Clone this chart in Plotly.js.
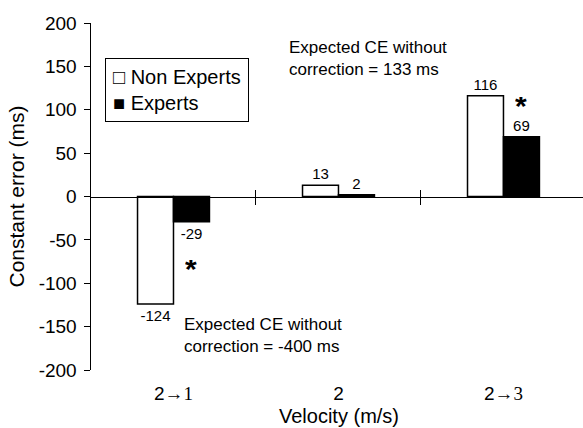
<!DOCTYPE html>
<html>
<head>
<meta charset="utf-8">
<script src="https://cdn.plot.ly/plotly-3.0.1.min.js"></script>
<style>html,body{margin:0;padding:0;overflow:hidden;background:#fff}</style>
</head>
<body>
<div id="chart" style="width:583px;height:428px"></div>
<script>
// ---- data ----
const categories = ['2→1', '2', '2→3'];
const seriesNames = ['Non Experts', 'Experts'];
const nonExperts = [-124, 13, 116];
const experts = [-29, 2, 69];
const yTicks = [-200, -150, -100, -50, 0, 50, 100, 150, 200];
const xTitle = 'Velocity (m/s)';
const yTitle = 'Constant error (ms)';
const noteLow = 'Expected CE without<br>correction = -400 ms';
const noteHigh = 'Expected CE without<br>correction = 133 ms';
const sigMarks = [{cat: 0, y: -82}, {cat: 2, y: 106}];

const FONT = 'Arial, "Liberation Sans", sans-serif';
const catIdx = categories.map((c, i) => i);
const tickText = categories.map(c =>
  c.replace(/→(\d)/, '<span style="font-family:Liberation Serif">→$1</span>'));

const barCommon = {
  type: 'bar',
  x: catIdx,
  textposition: 'outside',
  textfont: {size: 15, color: '#000', family: FONT},
  constraintext: 'none',
  cliponaxis: false,
  showlegend: false,
  hoverinfo: 'skip'
};

const traces = [
  Object.assign({}, barCommon, {
    name: seriesNames[0], y: nonExperts, text: nonExperts.map(String),
    marker: {color: '#fff', line: {color: '#000', width: 1.5}}
  }),
  Object.assign({}, barCommon, {
    name: seriesNames[1], y: experts, text: experts.map(String),
    marker: {color: '#000', line: {color: '#000', width: 1.5}}
  }),
  {type: 'scatter', x: [], y: [], xaxis: 'x2', yaxis: 'y', showlegend: false, hoverinfo: 'skip'},
  {type: 'scatter', x: [], y: [], xaxis: 'x3', yaxis: 'y', showlegend: false, hoverinfo: 'skip'}
];

const xr = [-0.5, 2.482];
const zeroAxis = (ticks) => ({
  overlaying: 'x', anchor: 'free', position: 0.5, range: xr,
  showline: true, linecolor: '#000', linewidth: 1,
  ticks: ticks, ticklen: 7, tickwidth: 1, tickcolor: '#000',
  tickvals: [0.5, 1.5], showticklabels: false, showgrid: false, zeroline: false
});

const annotations = [
  {xref: 'x', yref: 'y', x: 0.685, y: 159, xanchor: 'left', yanchor: 'middle',
   text: noteHigh, align: 'left', showarrow: false, font: {size: 17, family: FONT, color: '#000'}},
  {xref: 'x', yref: 'y', x: 0.05, y: -160.5, xanchor: 'left', yanchor: 'middle',
   text: noteLow, align: 'left', showarrow: false, font: {size: 17, family: FONT, color: '#000'}},
  {xref: 'paper', yref: 'paper', x: 0.0285, y: 0.9, xanchor: 'left', yanchor: 'top',
   text: '□ ' + seriesNames[0] + '<br>■ ' + seriesNames[1], align: 'left', showarrow: false,
   bordercolor: '#000', borderwidth: 1, borderpad: 7, bgcolor: '#fff',
   font: {size: 20, family: FONT, color: '#000'}},
  // x-axis title
  {xref: 'paper', yref: 'paper', x: 0.505, y: -0.167, xanchor: 'center', yanchor: 'bottom',
   text: xTitle, showarrow: false, borderpad: 0, font: {size: 20, family: FONT, color: '#000'}}
].concat(sigMarks.map(s => ({
  xref: 'x', yref: 'y', x: s.cat + 0.105, y: s.y, text: '<b>*</b>', showarrow: false,
  xanchor: 'center', yanchor: 'middle', height: 16, valign: 'middle',
  font: {size: 30, family: FONT, color: '#000'}
})));

const layout = {
  width: 583, height: 428,
  margin: {l: 91, r: 0, t: 23, b: 58},
  paper_bgcolor: '#fff', plot_bgcolor: '#fff',
  font: {family: FONT, color: '#000'},
  barmode: 'group', bargap: 0.564, bargroupgap: 0,
  showlegend: false,
  xaxis: {
    range: xr, tickvals: catIdx, ticktext: tickText, ticks: '',
    showline: false, showgrid: false, zeroline: false,
    tickfont: {size: 19, color: '#000'}, ticklabelstandoff: 10
  },
  xaxis2: zeroAxis('outside'),
  xaxis3: zeroAxis('inside'),
  yaxis: {
    range: [-200, 200], tickvals: yTicks, ticktext: yTicks.map(String),
    ticks: 'outside', ticklen: 6, tickwidth: 1, tickcolor: '#000',
    showline: true, linecolor: '#000', linewidth: 1.5,
    showgrid: false, zeroline: false,
    tickfont: {size: 19, color: '#000'}, ticklabelstandoff: 3,
    title: {text: yTitle, font: {size: 21, color: '#000'}, standoff: 8}
  },
  annotations: annotations
};

Plotly.newPlot('chart', traces, layout, {staticPlot: true, displayModeBar: false});
</script>
</body>
</html>
